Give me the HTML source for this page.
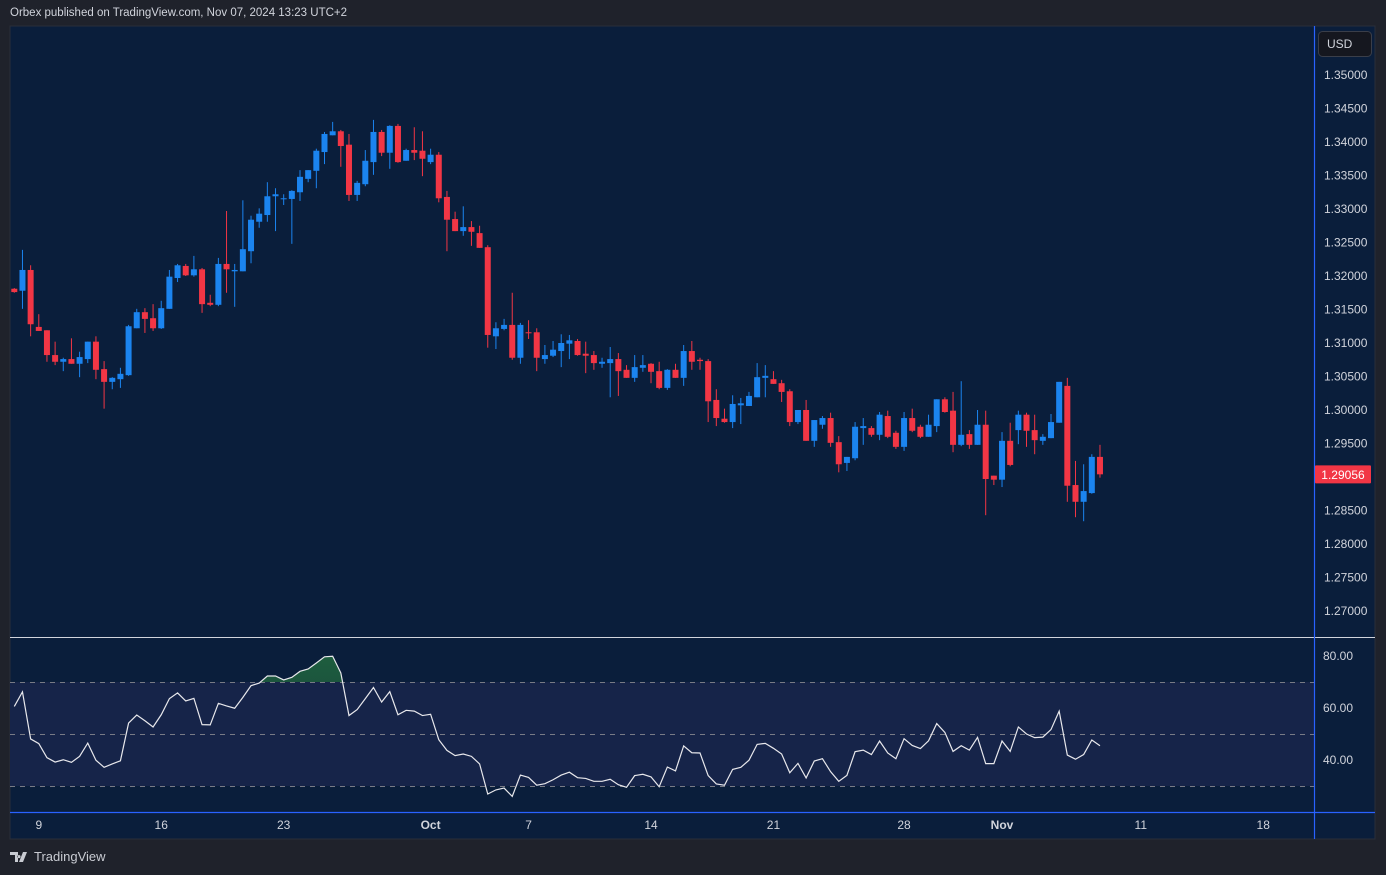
<!DOCTYPE html>
<html><head><meta charset="utf-8">
<style>
html,body{margin:0;padding:0;background:#1f222b;width:1386px;height:875px;overflow:hidden;font-family:"Liberation Sans",sans-serif;}
#hdr{position:absolute;left:10px;top:7px;font-size:11.5px;color:#d1d4dc;}
#logo{position:absolute;left:10px;top:849px;font-size:13px;color:#c8cbd2;display:flex;align-items:center;gap:4px;}
svg{position:absolute;left:0;top:0;}
</style></head>
<body>
<div id="hdr">Orbex published on TradingView.com, Nov 07, 2024 13:23 UTC+2</div>
<svg id="chart" width="1386" height="875"></svg>
<div id="logo"><svg width="20" height="12" style="position:static" viewBox="0 0 20 12"><path d="M0 1h8v10H5V4H0z M9 4a1.6 1.6 0 1 0 0.01 0z M13 1h4l-4 10h-4z" fill="#c8cbd2"/></svg><span>TradingView</span></div>
<script>
const opens=[1.3181,1.3178,1.3209,1.3124,1.3119,1.3082,1.3072,1.3076,1.3069,1.3076,1.3102,1.3061,1.3042,1.3046,1.3052,1.3122,1.3146,1.3137,1.3122,1.3151,1.3197,1.3215,1.3201,1.3210,1.3160,1.3157,1.3218,1.3207,1.3207,1.3237,1.3281,1.3291,1.3319,1.3315,1.3315,1.3325,1.3345,1.3357,1.3385,1.3410,1.3416,1.3396,1.3321,1.3337,1.3370,1.3415,1.3384,1.3424,1.3372,1.3388,1.3387,1.3370,1.3381,1.3318,1.3285,1.3267,1.3273,1.3264,1.3243,1.3110,1.3121,1.3127,1.3078,1.3116,1.3116,1.3076,1.3081,1.3088,1.3099,1.3103,1.3084,1.3082,1.3069,1.3070,1.3076,1.3060,1.3048,1.3063,1.3069,1.3058,1.3033,1.3060,1.3048,1.3088,1.3075,1.3073,1.3015,1.2987,1.2982,1.3007,1.3006,1.3019,1.3048,1.3046,1.3040,1.3028,1.2982,1.3000,1.2954,1.2978,1.2988,1.2952,1.2921,1.2928,1.2973,1.2973,1.2963,1.2991,1.2966,1.2945,1.2988,1.2975,1.2960,1.2976,1.3016,1.2999,1.2948,1.2964,1.2948,1.2978,1.2902,1.2896,1.2954,1.2970,1.2993,1.2970,1.2954,1.2958,1.2981,1.3036,1.2888,1.2863,1.2876,1.2930];
const highs=[1.3182,1.3239,1.3216,1.3143,1.3119,1.3102,1.3078,1.3107,1.3087,1.3102,1.3110,1.3073,1.3049,1.3063,1.3127,1.3151,1.3152,1.3158,1.3163,1.3209,1.3218,1.3218,1.3230,1.3212,1.3172,1.3227,1.3297,1.3218,1.3313,1.3290,1.3301,1.3340,1.3331,1.3322,1.3328,1.3358,1.3358,1.3390,1.3415,1.3430,1.3418,1.3412,1.3342,1.3388,1.3433,1.3418,1.3425,1.3427,1.3390,1.3422,1.3416,1.3390,1.3385,1.3327,1.3296,1.3304,1.3282,1.3275,1.3246,1.3131,1.3136,1.3175,1.3130,1.3134,1.3122,1.3097,1.3103,1.3113,1.3112,1.3106,1.3102,1.3088,1.3078,1.3094,1.3085,1.3067,1.3082,1.3082,1.3070,1.3072,1.3061,1.3069,1.3097,1.3103,1.3078,1.3076,1.3031,1.3002,1.3022,1.3018,1.3027,1.3070,1.3067,1.3058,1.3045,1.3031,1.3000,1.3015,1.2985,1.2991,1.2996,1.2961,1.2930,1.2982,1.2988,1.2976,1.2997,1.2999,1.2969,1.2997,1.3002,1.2978,1.2993,1.3016,1.3019,1.3027,1.3043,1.2970,1.3000,1.2999,1.2902,1.2967,1.2981,1.2999,1.2996,1.2993,1.2964,1.2994,1.3042,1.3048,1.2924,1.2919,1.2934,1.2948];
const lows=[1.3175,1.3151,1.3110,1.3118,1.3072,1.3067,1.3058,1.3069,1.3049,1.3070,1.3046,1.3002,1.3031,1.3033,1.3051,1.3122,1.3115,1.3118,1.3121,1.3151,1.3191,1.3200,1.3199,1.3145,1.3155,1.3155,1.3175,1.3154,1.3207,1.3219,1.3272,1.3281,1.3267,1.3306,1.3248,1.3312,1.3340,1.3331,1.3367,1.3410,1.3363,1.3312,1.3312,1.3334,1.3351,1.3379,1.3360,1.3369,1.3372,1.3373,1.3349,1.3367,1.3310,1.3237,1.3267,1.3260,1.3245,1.3242,1.3093,1.3091,1.3119,1.3075,1.3069,1.3106,1.3058,1.3069,1.3079,1.3064,1.3076,1.3081,1.3055,1.3060,1.3063,1.3019,1.3021,1.3048,1.3042,1.3057,1.3040,1.3031,1.3030,1.3048,1.3036,1.3060,1.3060,1.2982,1.2976,1.2981,1.2973,1.2979,1.3006,1.3019,1.3019,1.3039,1.3012,1.2976,1.2979,1.2954,1.2945,1.2972,1.2945,1.2907,1.2909,1.2925,1.2948,1.2960,1.2955,1.2958,1.2942,1.2939,1.2967,1.2958,1.2960,1.2967,1.2996,1.2937,1.2946,1.2942,1.2948,1.2843,1.2888,1.2885,1.2916,1.2949,1.2945,1.2934,1.2948,1.2958,1.2981,1.2863,1.2840,1.2834,1.2875,1.2899];
const closes=[1.3176,1.3209,1.3128,1.3118,1.3082,1.3072,1.3076,1.3069,1.3079,1.3102,1.3060,1.3042,1.3048,1.3054,1.3125,1.3146,1.3136,1.3122,1.3152,1.3199,1.3216,1.3201,1.3210,1.3158,1.3157,1.3218,1.3210,1.3209,1.3240,1.3284,1.3293,1.3319,1.3322,1.3316,1.3327,1.3348,1.3358,1.3387,1.3412,1.3416,1.3394,1.3321,1.3339,1.3372,1.3415,1.3384,1.3424,1.3370,1.3388,1.3384,1.3375,1.3381,1.3316,1.3284,1.3267,1.3273,1.3266,1.3242,1.3112,1.3122,1.3127,1.3078,1.3127,1.3115,1.3078,1.3082,1.3090,1.3100,1.3104,1.3082,1.3081,1.3070,1.3072,1.3076,1.3058,1.3048,1.3064,1.3067,1.3057,1.3033,1.3060,1.3048,1.3088,1.3072,1.3073,1.3013,1.2988,1.2982,1.3009,1.3010,1.3021,1.3049,1.3051,1.3039,1.3027,1.2982,1.3000,1.2954,1.2985,1.2988,1.2951,1.2919,1.2930,1.2975,1.2976,1.2963,1.2993,1.2960,1.2945,1.2988,1.2969,1.2960,1.2978,1.3016,1.2997,1.2948,1.2963,1.2948,1.2978,1.2897,1.2896,1.2954,1.2918,1.2993,1.2969,1.2955,1.2960,1.2982,1.3042,1.2887,1.2863,1.2879,1.2930,1.2904];
const rsi=[60.6,66.2,48.1,46.3,40.9,39.2,40.1,39.1,41.4,46.5,39.9,37.2,38.5,39.7,54.2,57.3,55.1,52.7,57.4,63.6,65.8,62.7,63.7,53.6,53.5,61.8,60.8,59.9,64.1,68.6,69.6,72.3,72.3,70.8,71.8,74.1,75.0,77.3,79.7,79.9,73.5,57.1,59.4,63.6,67.9,62.3,66.3,57.4,59.1,58.8,57.1,57.6,47.8,43.7,41.7,42.3,41.4,38.5,26.9,28.5,29.2,26.0,34.2,33.3,30.3,30.9,32.4,34.2,35.3,33.2,32.9,31.8,31.8,32.6,30.5,29.5,34.0,34.5,33.5,29.7,37.3,35.8,45.4,42.8,42.7,34.0,30.8,30.3,36.4,37.2,39.9,46.0,46.4,44.5,42.3,35.1,38.7,33.1,39.6,40.5,35.5,31.8,34.1,43.2,43.8,42.1,47.3,42.7,40.5,48.2,45.6,44.4,47.4,54.0,50.6,43.3,45.5,43.8,48.7,38.6,38.6,47.3,43.3,52.7,50.0,48.6,48.8,51.7,58.8,41.9,40.3,42.1,47.7,45.5];
const priceTicks=["1.35000","1.34500","1.34000","1.33500","1.33000","1.32500","1.32000","1.31500","1.31000","1.30500","1.30000","1.29500","1.29000","1.28500","1.28000","1.27500","1.27000"];
const rsiTicks=[80,60,40];
const timeLabels=["9","16","23","Oct","7","14","21","28","Nov","11","18"];
const timeIdx=[3,18,33,51,63,78,93,109,121,138,153];
const lastPrice="1.29056";

const NS="http://www.w3.org/2000/svg";
const svg=document.getElementById('chart');
function el(t,a,p){const e=document.createElementNS(NS,t);for(const k in a)e.setAttribute(k,a[k]);(p||svg).appendChild(e);return e;}
const L=10,R=1375,T=26,B=839,PX=1314,DIV=637,TX=812;
const xAt=i=>14.3+i*8.163;
const yP=p=>75+(1.35-p)*6700;
const yR=v=>682+(70-v)*2.6;

let r=el('rect',{x:L,y:T,width:R-L,height:B-T,fill:'#0a1e3b',stroke:'#2a2e39'});

r=el('rect',{x:L,y:yR(70),width:PX-L,height:yR(30)-yR(70),fill:'#162449'});

[70,50,30].forEach(v=>{const l=el('line',{x1:L,x2:PX,y1:yR(v)+0.5,y2:yR(v)+0.5,stroke:'#787b86','stroke-dasharray':'5 5','stroke-width':1});
});
const defs=el('defs',{});
const cp=el('clipPath',{id:'cp'},defs);el('rect',{x:L,y:T,width:PX-L,height:B-T},cp);
const cpo=el('clipPath',{id:'cpo'},defs);el('rect',{x:L,y:0,width:PX-L,height:yR(70)},cpo);
const gr=el('linearGradient',{id:'gg',x1:0,y1:0,x2:0,y2:1},defs);
el('stop',{offset:0,'stop-color':'#1e5e3e'},gr);el('stop',{offset:1,'stop-color':'#10303a'},gr);
const g=el('g',{'clip-path':'url(#cp)'});

for(let i=0;i<opens.length;i++){
  const up=closes[i]>=opens[i];const c=up?'#1b84ef':'#f23645';const x=xAt(i);
  const w=el('line',{x1:x,x2:x,y1:yP(highs[i]),y2:yP(lows[i]),stroke:c,'stroke-width':1},g);
  
  const t=yP(Math.max(opens[i],closes[i])),b=yP(Math.min(opens[i],closes[i]));
  const bd=el('rect',{x:x-3,y:t,width:6,height:Math.max(1,b-t),fill:c},g);
  
}
let pts=rsi.map((v,i)=>xAt(i)+','+yR(v)).join(' ');
const area=el('polygon',{points:xAt(0)+','+yR(70)+' '+pts+' '+xAt(rsi.length-1)+','+yR(70),fill:'url(#gg)','clip-path':'url(#cpo)'});

const rl=el('polyline',{points:pts,fill:'none',stroke:'#e8e8ec','stroke-width':1.2,'clip-path':'url(#cp)'});

let s=el('line',{x1:L,x2:R,y1:DIV+0.5,y2:DIV+0.5,stroke:'#d1d4dc','stroke-width':1});

s=el('line',{x1:PX+0.5,x2:PX+0.5,y1:T,y2:B,stroke:'#2962ff','stroke-width':1.2});

s=el('line',{x1:L,x2:R,y1:TX+0.5,y2:TX+0.5,stroke:'#2962ff','stroke-width':1.2});

const ft='font-family:"Liberation Sans",sans-serif;font-size:12px;';
priceTicks.forEach(t=>{const e=el('text',{x:1324,y:yP(parseFloat(t))+4,fill:'#d1d4dc',style:ft});e.textContent=t;
});
rsiTicks.forEach(v=>{const e=el('text',{x:1323,y:yR(v)+4,fill:'#d1d4dc',style:ft});e.textContent=v.toFixed(2);
});
timeLabels.forEach((t,k)=>{const e=el('text',{x:xAt(timeIdx[k]),y:829,fill:'#d1d4dc','text-anchor':'middle',style:ft+(isNaN(+t)?'font-weight:bold;':'')});e.textContent=t;
});
const ly=yP(1.2904);
const lb=el('rect',{x:1315,y:ly-9,width:56,height:18,fill:'#f23645',rx:1});

let lt=el('text',{x:1343,y:ly+4.5,fill:'#ffffff','text-anchor':'middle',style:ft});lt.textContent=lastPrice;

const ub=el('rect',{x:1318.5,y:31.5,width:53,height:25,rx:4,fill:'#15171f',stroke:'#3a3e49'});

lt=el('text',{x:1327,y:48,fill:'#d1d4dc',style:ft});lt.textContent='USD';

</script>
</body></html>
